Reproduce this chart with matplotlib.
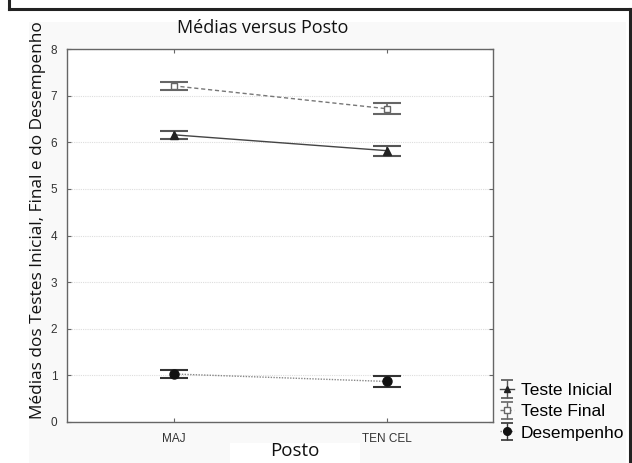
import matplotlib.pyplot as plt
from matplotlib.patches import Rectangle
from matplotlib.lines import Line2D

postos = ['MAJ', 'TEN CEL']
teste_inicial = [6.16, 5.82]
teste_inicial_err = [0.09, 0.11]
teste_final = [7.21, 6.72]
teste_final_err = [0.09, 0.12]
desempenho = [1.03, 0.87]
desempenho_err = [0.095, 0.12]
series_names = ['Teste Inicial', 'Teste Final', 'Desempenho']

W, H = 632, 463
fig = plt.figure(figsize=(W / 100, H / 100), dpi=100)
fig.patch.set_facecolor('white')

# light grey panel + black frame
fig.patches.append(Rectangle((29 / W, 0), (626 - 29) / W, 1 - 22 / H, transform=fig.transFigure,
                             facecolor='#f9f9f9', edgecolor='none', zorder=-10))
fig.patches.append(Rectangle((230 / W, 0), 130 / W, 20 / H, transform=fig.transFigure,
                             facecolor='white', edgecolor='none', zorder=-5))
for xs, ys in [([9, 9], [0, 9]), ([9, 630], [9, 9]), ([630, 630], [9, 463])]:
    fig.add_artist(Line2D([x / W for x in xs], [1 - y / H for y in ys], transform=fig.transFigure,
                          color='#222222', lw=2.2))

ax = fig.add_axes([67 / W, 1 - 422 / H, (493 - 67) / W, (422 - 49) / H])
ax.set_facecolor('white')

styles = [
    dict(color='#444444', ecolor='#555555', marker='^', markersize=6,
         markerfacecolor='#222222', markeredgecolor='#222222', linestyle='-'),
    dict(color='#777777', ecolor='#666666', marker='s', markersize=5,
         markerfacecolor='white', markeredgecolor='#666666', linestyle=(0, (3, 2))),
    dict(color='#888888', ecolor='#333333', marker='o', markersize=6.5,
         markerfacecolor='#111111', markeredgecolor='#111111', linestyle=(0, (1, 1))),
]
values = [teste_inicial, teste_final, desempenho]
errors = [teste_inicial_err, teste_final_err, desempenho_err]

x = range(len(postos))
handles = []
for vals, errs, st in zip(values, errors, styles):
    ax.errorbar(x, vals, yerr=errs, lw=1.0, elinewidth=1.2, capsize=10, capthick=1.5, **st)
    # smaller caps for the legend key (drawn outside the view, clipped)
    h = ax.errorbar([10], [10], yerr=[0.1], lw=1.0, elinewidth=1.0, capsize=4, capthick=1.2,
                    **{k: v for k, v in st.items() if k not in ('markersize',)},
                    markersize=st['markersize'] - 1)
    handles.append(h)

ax.set_xlim(-0.5, 1.5)
ax.set_ylim(0, 8)
ax.set_xticks(list(x))
ax.set_xticklabels(postos)
ax.set_yticks(range(0, 9))
ax.yaxis.grid(True, color='#dddddd', linestyle=(0, (1, 1)), lw=0.8)
ax.set_axisbelow(True)
ax.tick_params(direction='in', length=3, width=0.8, colors='#666666', labelcolor='#333333',
               labelsize=8.5, top=True, right=True, labelfontfamily='Liberation Sans')
ax.tick_params(axis='y', pad=7)
ax.tick_params(axis='x', pad=8)
for s in ax.spines.values():
    s.set_color('#666666')
    s.set_linewidth(1.0)

fig.text(263 / W, 1 - 28 / H, 'Médias versus Posto', ha='center', va='center',
         fontsize=13, family='Open Sans', color='#111111')
fig.text(38 / W, 1 - 220 / H, 'Médias dos Testes Inicial, Final e do Desempenho', ha='center',
         va='center', rotation=90, fontsize=12.4, family='Open Sans', color='#111111')
fig.text(295 / W, 1 - 451 / H, 'Posto', ha='center', va='center', fontsize=13.5,
         family='Open Sans', color='#111111')

fig.legend(handles, series_names,
           loc='upper left', bbox_to_anchor=(493 / W, 1 - 376 / H), frameon=False,
           handlelength=0.8, handletextpad=0.4, labelspacing=0.35, borderaxespad=0,
           prop={'family': 'Liberation Sans', 'size': 12.5})

fig.savefig('out.png', dpi=100)
